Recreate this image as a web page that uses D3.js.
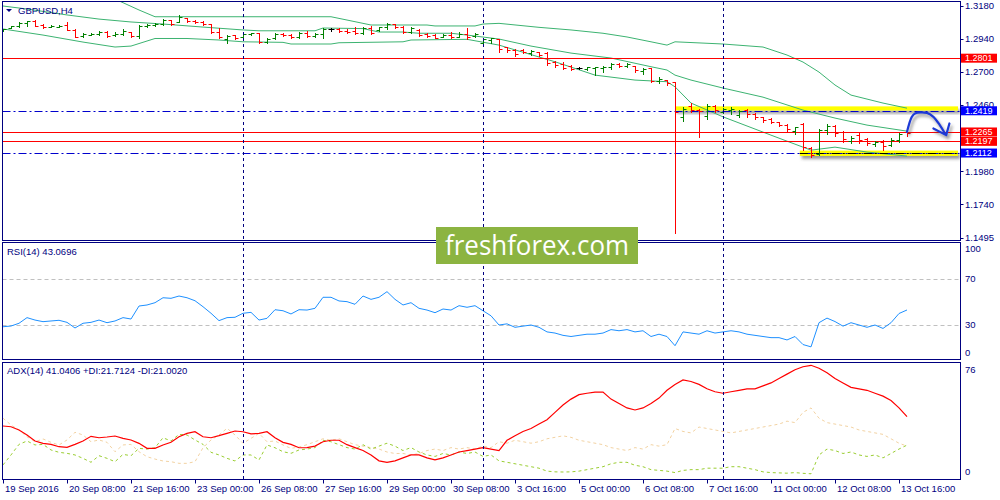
<!DOCTYPE html>
<html><head><meta charset="utf-8">
<script src="https://cdn.jsdelivr.net/npm/d3@7"></script>
<style>
body{margin:0;background:#fff}
svg{display:block;font-family:"Liberation Sans",Arial,sans-serif}
</style></head>
<body><svg id="c" width="1000" height="500"></svg>
<script>
// ---------------- DATA ----------------
const symbolTitle = "GBPUSD,H4";
const rsiTitle = "RSI(14) 43.0696";
const adxTitle = "ADX(14) 41.0406 +DI:21.7124 -DI:21.0020";
const watermark = "freshforex.com";

const open = [1.2998,1.3020,1.3035,1.3056,1.3071,1.3042,1.3027,1.3031,1.3042,1.3006,
1.2962,1.2973,1.2976,1.2991,1.2969,1.2980,1.2991,1.2962,1.3035,1.3042,
1.3049,1.3078,1.3064,1.3093,1.3071,1.3064,1.3049,1.2991,1.2940,1.2969,
1.2955,1.2976,1.2984,1.2918,1.2947,1.2976,1.2969,1.2955,1.2984,1.2962,
1.2976,1.3016,1.3016,1.2998,1.2998,1.2984,1.3020,1.3006,1.3027,1.3046,
1.3027,1.2991,1.3009,1.2976,1.2969,1.2955,1.2969,1.2955,1.2976,1.2962,
1.2911,1.2933,1.2940,1.2882,1.2860,1.2860,1.2838,1.2846,1.2838,1.2773,
1.2758,1.2744,1.2729,1.2722,1.2729,1.2729,1.2737,1.2758,1.2747,1.2744,
1.2707,1.2729,1.2635,1.2642,1.2628,1.2373,1.2453,1.2424,1.2380,1.2453,
1.2409,1.2424,1.2388,1.2424,1.2395,1.2373,1.2358,1.2337,1.2315,1.2271,
1.2322,1.2148,1.2104,1.2279,1.2308,1.2264,1.2199,1.2242,1.2213,1.2177,
1.2191,1.2169,1.2206,1.2264];
const high = [1.3013,1.3035,1.3064,1.3071,1.3078,1.3049,1.3042,1.3042,1.3064,1.3013,
1.2984,1.2984,1.2998,1.2998,1.2991,1.3013,1.2991,1.3042,1.3049,1.3056,
1.3085,1.3078,1.3115,1.3093,1.3078,1.3071,1.3049,1.3020,1.2969,1.2969,
1.2991,1.2986,1.2986,1.2947,1.2984,1.2984,1.2976,1.2991,1.3000,1.2986,
1.3020,1.3020,1.3020,1.3013,1.3030,1.3030,1.3035,1.3030,1.3054,1.3047,
1.3035,1.3030,1.3011,1.2982,1.2976,1.2976,1.2993,1.2993,1.3018,1.2986,
1.2947,1.2947,1.2940,1.2884,1.2867,1.2867,1.2860,1.2848,1.2846,1.2782,
1.2775,1.2751,1.2734,1.2739,1.2739,1.2744,1.2763,1.2763,1.2763,1.2744,
1.2731,1.2731,1.2662,1.2642,1.2630,1.2446,1.2475,1.2431,1.2468,1.2460,
1.2441,1.2444,1.2424,1.2429,1.2400,1.2375,1.2368,1.2339,1.2320,1.2303,
1.2332,1.2157,1.2284,1.2322,1.2315,1.2274,1.2235,1.2259,1.2218,1.2201,
1.2206,1.2218,1.2259,1.2279];
const low = [1.2998,1.3020,1.3027,1.3035,1.3035,1.3020,1.3027,1.3027,1.3006,1.2955,
1.2955,1.2969,1.2969,1.2955,1.2962,1.2969,1.2955,1.2947,1.3027,1.3035,
1.3042,1.3042,1.3064,1.3064,1.3056,1.3042,1.2984,1.2947,1.2911,1.2940,
1.2955,1.2969,1.2911,1.2911,1.2940,1.2962,1.2947,1.2947,1.2957,1.2955,
1.2947,1.3000,1.2993,1.2986,1.2976,1.2976,1.2976,1.3000,1.3011,1.3018,
1.2982,1.2982,1.2962,1.2957,1.2945,1.2952,1.2945,1.2952,1.2938,1.2957,
1.2904,1.2913,1.2848,1.2848,1.2817,1.2838,1.2824,1.2817,1.2751,1.2739,
1.2720,1.2715,1.2720,1.2715,1.2678,1.2702,1.2720,1.2739,1.2739,1.2702,
1.2686,1.2630,1.2618,1.2606,1.1530,1.2346,1.2411,1.2228,1.2356,1.2411,
1.2400,1.2395,1.2375,1.2375,1.2356,1.2339,1.2327,1.2308,1.2271,1.2249,
1.2133,1.2080,1.2097,1.2249,1.2235,1.2193,1.2182,1.2186,1.2169,1.2162,
1.2133,1.2162,1.2193,1.2235];
const close = [1.3013,1.3035,1.3056,1.3071,1.3035,1.3027,1.3038,1.3038,1.3009,1.2958,
1.2976,1.2980,1.2991,1.2962,1.2980,1.2998,1.2962,1.3035,1.3042,1.3049,
1.3078,1.3049,1.3100,1.3071,1.3064,1.3049,1.2991,1.2955,1.2962,1.2947,
1.2976,1.2984,1.2918,1.2940,1.2976,1.2969,1.2955,1.2984,1.2962,1.2976,
1.3016,1.3016,1.2998,1.2991,1.2984,1.3020,1.2984,1.3027,1.3049,1.3027,
1.2991,1.3020,1.2969,1.2962,1.2951,1.2969,1.2955,1.2976,1.2955,1.2976,
1.2940,1.2944,1.2867,1.2860,1.2831,1.2846,1.2853,1.2824,1.2766,1.2751,
1.2729,1.2722,1.2729,1.2737,1.2737,1.2740,1.2758,1.2747,1.2758,1.2715,
1.2722,1.2635,1.2653,1.2620,1.2409,1.2431,1.2424,1.2417,1.2453,1.2424,
1.2435,1.2435,1.2417,1.2395,1.2373,1.2351,1.2337,1.2315,1.2286,1.2300,
1.2155,1.2097,1.2279,1.2308,1.2257,1.2213,1.2220,1.2206,1.2184,1.2191,
1.2162,1.2206,1.2249,1.2257];

// Bollinger bands: [bar, price]
const bbUpper = [[12,1.3282],[15,1.3204],[17,1.3151],[19,1.3102],[25,1.3102],[30,1.3102],[41,1.3102],[43,1.3078],[46,1.3042],[53,1.3042],[54,1.3035],[59,1.3035],[60,1.3049],[62,1.3054],[67,1.3025],[71,1.3006],[75,1.2982],[78,1.2955],[81,1.2920],[83,1.2896],[84,1.2920],[90,1.2904],[95,1.2882],[98,1.2824],[100,1.2773],[102,1.2700],[104,1.2606],[106,1.2533],[110,1.2475],[113,1.2438]];
const bbMiddle = [[0,1.3180],[3,1.3158],[8,1.3115],[12,1.3085],[16,1.3064],[20,1.3049],[25,1.3027],[30,1.3006],[32,1.3000],[39,1.3000],[40,1.3020],[45,1.3016],[47,1.2991],[50,1.2991],[52,1.2982],[56,1.2982],[58,1.2969],[62,1.2940],[66,1.2889],[71,1.2838],[76,1.2802],[81,1.2739],[83,1.2715],[84,1.2678],[86,1.2642],[90,1.2584],[95,1.2518],[100,1.2424],[104,1.2366],[108,1.2315],[113,1.2271]];
const bbLower = [[0,1.3013],[5,1.2969],[10,1.2918],[14,1.2882],[16,1.2889],[19,1.2944],[23,1.2944],[27,1.2933],[30,1.2920],[35,1.2916],[36,1.2904],[41,1.2904],[42,1.2913],[50,1.2920],[51,1.2933],[58,1.2938],[62,1.2896],[69,1.2775],[74,1.2678],[79,1.2642],[83,1.2630],[84,1.2593],[86,1.2475],[90,1.2375],[96,1.2242],[101,1.2133],[104,1.2155],[108,1.2119],[113,1.2090]];

const rsi = [28.5,29.1,31.5,36.4,34.3,32.9,33.5,34.1,32.3,27.4,
31.5,32.3,34.3,32.0,33.5,36.4,35.2,46.5,47.4,49.4,
53.7,53.2,55.2,53.7,51.1,45.9,40.2,33.8,36.4,36.7,
40.2,41.0,34.3,35.8,43.3,42.4,39.6,43.3,43.0,44.5,
54.1,54.1,50.9,50.3,48.0,55.2,52.3,54.1,59.0,52.3,
47.4,49.4,44.5,43.0,40.7,43.9,43.0,46.8,45.4,46.8,
42.4,38,30,31,28,29,30,28,24,23,
21,20,21,22,22,23,26,25,26,24,
25,20,22,20,12,24,23,22,25,23,
24,25,24,22,21,20,19,19,17,20,
13,11,32,36,33,29,32,30,28,30,
27,32,40,43.07];

const adx = [34.7,34.2,32,28.6,24.5,22.9,22.2,20.6,20.2,22.2,
24.5,27.7,26.7,27.2,27.9,26.3,25.2,22.9,19.5,19.5,
21.8,23.6,27.4,29.7,30.8,27.4,26.7,28.1,29.7,31.3,
30.8,29.3,29.7,30.8,26.7,23.6,22.2,19.9,
20,21,24,25,25,22,20,18,15,11,
10,11,13,15,15,13,11.6,13,15,17,
18,19,20,19,18,25,28,31,33,36,
39,44,49,53,56,57,57.8,57.8,53,50,
47,45.6,47,50,53.7,59,63,66,65,63,
60,58,57,58,59,60,60,62,64,67,
70,73,75,76,74,71,67,64,61,60,
59,57,55,52,47,41.04];
const plusDI = [8.2,15,22.2,24.5,21.8,22.2,18.4,16.8,16.1,15,
12.7,10,14.5,12.7,10.4,15.4,14.5,19.5,19,19.9,
26.7,24.5,29,28.6,25.2,22.2,16.8,15,12.7,10.9,
15,15,11.6,21.8,19.9,17.2,16.1,18.4,
19,20,25,24,22,20,19,22,19,21,
23,21,18,20,17,15,14,16,15,17,
16,17,14,15,11,10,9,8,7,6,
4,3.5,3.4,3.5,4,5,6,7,9,10,
10,8,7,5,4.5,4,3,4.5,5,5,
6,6,6,7,7,6,5,3.5,3,2.8,
2.6,3,2.5,2.2,15,19,18,16,17,15,
14,15,13,16,19,21.71];
const minusDI = [40,35.4,32,27.4,24,25.9,23.6,21.8,25.2,30.4,
28.6,24,25.2,23.6,17.2,21.8,22.2,17.2,13.8,12.2,
10.9,10.4,9.3,9.3,10.4,19.9,25.2,28.6,33.1,28.6,
22.9,26.3,29.7,24,24.5,21.8,19.5,20.4,
22,24,26,25,26,24,22,21,20,19,
17,16,16,15,16,18,19,18,20,19,
20,19,21,20,24,23,25,24,23,24,
26,27,28,27,25,24,23,22,20,19,
18,20,19,22,21,22,33,31,30,34,
33,32,31,30,31,32,33,34,35,36,
38,37,44,47,40,37,36,35,34,32,
31,30,29,26,23,21.0];

const priceTicks = [1.3180,1.2940,1.2700,1.2460,1.1980,1.1740,1.1495];
const redLevels = [1.2801,1.2265,1.2197];
const blueLevels = [1.2419,1.2112];
const zoneStart = [84,99.6];
const zoneHigh = [1.2451,1.2130];
const zoneLow = [1.2421,1.2091];
const rsiLevels = [70,30];
const rsiTicks = [100,70,30,0];
const adxTicks = [76,0];
const weekSeparators = [30,60,90];
const timeLabels = ["19 Sep 2016","20 Sep 08:00","21 Sep 16:00","23 Sep 00:00","26 Sep 08:00","27 Sep 16:00","29 Sep 00:00","30 Sep 08:00","3 Oct 16:00","5 Oct 00:00","6 Oct 08:00","7 Oct 16:00","11 Oct 00:00","12 Oct 08:00","13 Oct 16:00"];
const timeTickBars = [0,8,16,24,32,40,48,56,64,72,80,88,96,104,112];
// hand-drawn arrow [bar, price]
const arrowPath = [[113,1.2266],[113.6,1.2375],[114,1.2400],[115.5,1.2404],[116.3,1.2375],[117.1,1.2315],[117.75,1.2254]];
const arrowHead = [[116.3,1.2291],[117.9,1.2242],[118.3,1.2327]];

// ---------------- CHART ----------------
const svg = d3.select('#c');
const navy = '#000080';
const L = 2.5, R = 960.5;
const main = {t:1.5, b:240.5}, pr = {t:242.5, b:359.5}, pa = {t:362.5, b:479.5};

const x = d3.scaleLinear().domain([0,119.5]).range([3,959]);
const yP = d3.scaleLinear().domain([1.1495,1.3180]).range([238,6]);
const yR = d3.scaleLinear().domain([0,100]).range([359.5,244.5]);
const yA = d3.scaleLinear().domain([0,76]).range([477,365.3]);
const px = v => Math.round(v)+0.5;

const defs = svg.append('defs');
const fl = defs.append('filter').attr('id','sh').attr('x','-20%').attr('y','-100%').attr('width','140%').attr('height','300%');
fl.append('feDropShadow').attr('dx',2).attr('dy',3).attr('stdDeviation',1.4).attr('flood-color','#444').attr('flood-opacity',0.55);
[['cm',main],['cr',pr],['ca',pa]].forEach(([id,p])=>{
  defs.append('clipPath').attr('id',id).append('rect').attr('x',L).attr('y',p.t).attr('width',R-L).attr('height',p.b-p.t);
});

svg.append('rect').attr('width',1000).attr('height',500).attr('fill','#fff');

// ---------- main panel ----------
const gm = svg.append('g').attr('clip-path','url(#cm)');
zoneStart.forEach((s,i)=>{
  gm.append('rect').attr('x',x(s)).attr('y',yP(zoneHigh[i])).attr('width',958-x(s))
    .attr('height',yP(zoneLow[i])-yP(zoneHigh[i])).attr('fill','#ffff00').attr('filter','url(#sh)');
});
const bline = d3.line().x(d=>x(d[0])).y(d=>yP(d[1]));
[bbUpper,bbMiddle,bbLower].forEach(arr=>{
  gm.append('path').attr('d',bline(arr)).attr('fill','none').attr('stroke','#3cb371').attr('stroke-width',1);
});
redLevels.forEach(v=>{
  gm.append('line').attr('x1',L).attr('x2',R).attr('y1',px(yP(v))).attr('y2',px(yP(v))).attr('stroke','#ff0000');
});
blueLevels.forEach(v=>{
  gm.append('line').attr('x1',L).attr('x2',R).attr('y1',px(yP(v))).attr('y2',px(yP(v)))
    .attr('stroke','#0000cd').attr('stroke-dasharray','8,3,2,3');
});
gm.append('line').attr('x1',x(zoneStart[1])).attr('x2',958).attr('y1',px(yP(blueLevels[1]))).attr('y2',px(yP(blueLevels[1])))
  .attr('stroke','#000').attr('stroke-dasharray','8,3,2,3');
const bars = gm.append('g');
open.forEach((o,i)=>{
  const c = close[i];
  const col = c>o ? '#008000' : (c<o ? '#ff0000' : '#000000');
  const cx = px(x(i));
  const g = bars.append('g').attr('stroke',col).attr('stroke-width',1);
  g.append('line').attr('x1',cx).attr('x2',cx).attr('y1',Math.round(yP(high[i]))).attr('y2',Math.round(yP(low[i]))+1);
  g.append('line').attr('x1',cx-3).attr('x2',cx).attr('y1',px(yP(o))).attr('y2',px(yP(o)));
  g.append('line').attr('x1',cx).attr('x2',cx+3).attr('y1',px(yP(c))).attr('y2',px(yP(c)));
});
const aline = d3.line().x(d=>x(d[0])).y(d=>yP(d[1])).curve(d3.curveCatmullRom);
const ga = svg.append('g').attr('filter','url(#sh)').attr('fill','none').attr('stroke','#1e3ad6').attr('stroke-width',2.2).attr('stroke-linecap','round').attr('stroke-linejoin','round');
ga.append('path').attr('d',aline(arrowPath));
ga.append('path').attr('d',d3.line().x(d=>x(d[0])).y(d=>yP(d[1]))(arrowHead));

// ---------- RSI panel ----------
const gr = svg.append('g').attr('clip-path','url(#cr)');
rsiLevels.forEach(v=>{
  gr.append('line').attr('x1',L).attr('x2',R).attr('y1',px(yR(v))).attr('y2',px(yR(v)))
    .attr('stroke','#c0c0c0').attr('stroke-dasharray','4,3');
});
gr.append('path').attr('d',d3.line().x((d,i)=>x(i)).y(d=>yR(d))(rsi)).attr('fill','none').attr('stroke','#1e90ff').attr('stroke-width',1);

// ---------- ADX panel ----------
const gd = svg.append('g').attr('clip-path','url(#ca)');
const dl = d3.line().x((d,i)=>x(i)).y(d=>yA(d));
gd.append('path').attr('d',dl(minusDI)).attr('fill','none').attr('stroke','#f2d2a2').attr('stroke-dasharray','3,3');
gd.append('path').attr('d',dl(plusDI)).attr('fill','none').attr('stroke','#9acd32').attr('stroke-dasharray','3,3');
gd.append('path').attr('d',dl(adx)).attr('fill','none').attr('stroke','#ff0000').attr('stroke-width',1.2);

// ---------- separators ----------
weekSeparators.forEach(b=>{
  svg.append('line').attr('x1',px(x(b))).attr('x2',px(x(b))).attr('y1',2).attr('y2',479)
    .attr('stroke',navy).attr('stroke-dasharray','3,3');
});

// ---------- frames ----------
[main,pr,pa].forEach(p=>{
  svg.append('rect').attr('x',L).attr('y',p.t).attr('width',R-L).attr('height',p.b-p.t)
    .attr('fill','none').attr('stroke',navy).attr('stroke-width',1);
});

// ---------- axes text ----------
const fs = 9.5;
const fmt = d3.format('.4f');
priceTicks.forEach(v=>{
  const y = yP(v);
  svg.append('line').attr('x1',R).attr('x2',R+3).attr('y1',px(y)).attr('y2',px(y)).attr('stroke',navy);
  svg.append('text').attr('x',965).attr('y',y).attr('dy','0.35em').attr('font-size',fs).attr('fill',navy).text(fmt(v));
});
function box(v,col){
  const y = yP(v);
  svg.append('rect').attr('x',961).attr('y',y-4.5).attr('width',36).attr('height',9).attr('fill',col);
  svg.append('text').attr('x',965).attr('y',y).attr('dy','0.35em').attr('font-size',9).attr('fill','#fff').text(fmt(v));
}
redLevels.forEach(v=>box(v,'#ff0000'));
blueLevels.forEach(v=>box(v,'#0000ff'));

rsiTicks.forEach(v=>{
  const y = Math.max(249, Math.min(353, yR(v)));
  svg.append('text').attr('x',965).attr('y',y).attr('dy','0.35em').attr('font-size',fs).attr('fill',navy).text(v);
});
adxTicks.forEach(v=>{
  const y = Math.max(370, Math.min(472, yA(v)));
  svg.append('text').attr('x',965).attr('y',y).attr('dy','0.35em').attr('font-size',fs).attr('fill',navy).text(v);
});

timeTickBars.forEach((b,i)=>{
  const tx = px(x(b));
  svg.append('line').attr('x1',tx).attr('x2',tx).attr('y1',479.5).attr('y2',483.5).attr('stroke',navy);
  svg.append('text').attr('x',tx+1.5).attr('y',489).attr('dy','0.35em').attr('font-size',fs).attr('fill',navy).text(timeLabels[i]);
});

svg.append('path').attr('d','M6,9 L12,9 L9,12 Z').attr('fill',navy);
svg.append('text').attr('x',18).attr('y',10.5).attr('dy','0.35em').attr('font-size',fs).attr('fill',navy).text(symbolTitle);
svg.append('text').attr('x',7).attr('y',251.5).attr('dy','0.35em').attr('font-size',fs).attr('fill',navy).text(rsiTitle);
svg.append('text').attr('x',7).attr('y',371).attr('dy','0.35em').attr('font-size',fs).attr('fill',navy).text(adxTitle);

svg.append('rect').attr('x',436).attr('y',227).attr('width',202).attr('height',37).attr('fill','#8cb441');
svg.append('text').attr('x',445).attr('y',255).attr('font-family','"Open Sans","Noto Sans",sans-serif')
  .attr('font-size',27).attr('fill','#fff').attr('textLength',184).attr('lengthAdjust','spacingAndGlyphs').text(watermark);
</script>
</body></html>
